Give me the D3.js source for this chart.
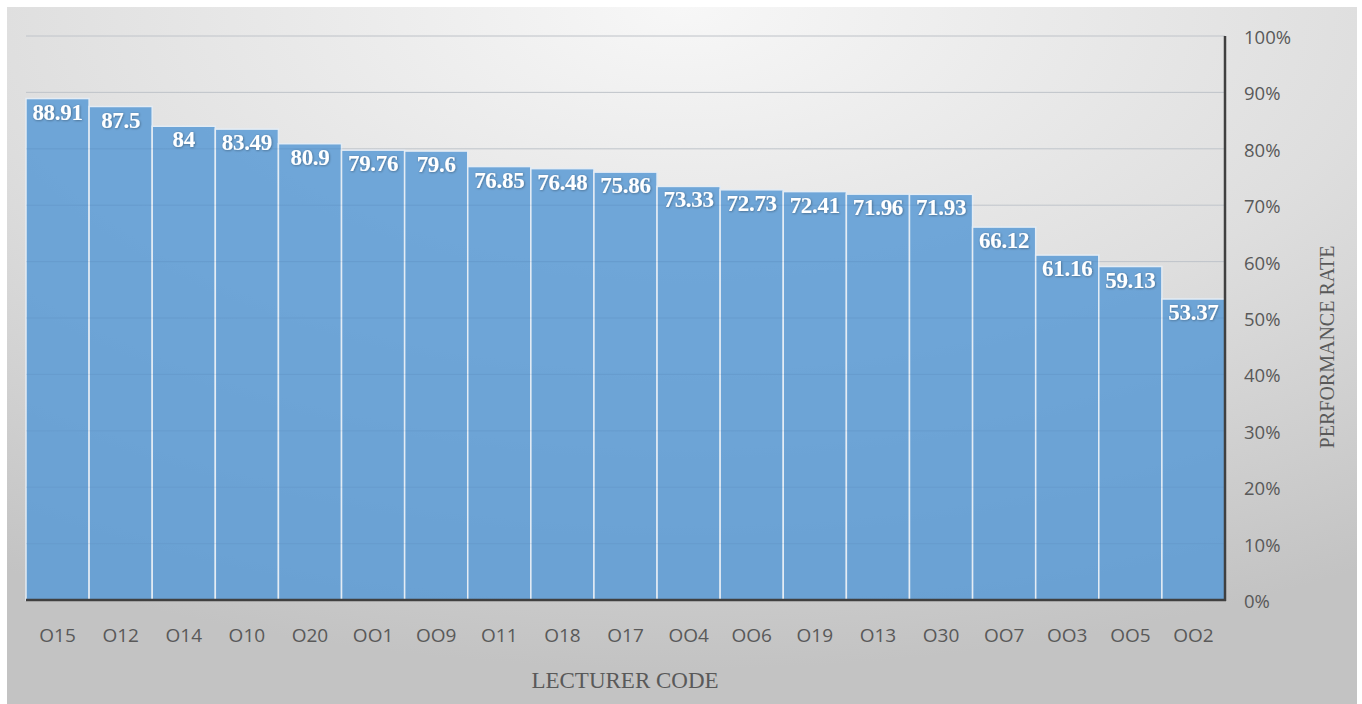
<!DOCTYPE html>
<html>
<head>
<meta charset="utf-8">
<script src="https://cdn.jsdelivr.net/npm/d3@7"></script>
<style>
  html, body { margin: 0; padding: 0; background: #fff; }
  svg { display: block; }
</style>
</head>
<body>
<svg></svg>
<script>
// chart data
var codes = ['O15', 'O12', 'O14', 'O10', 'O20', 'OO1', 'OO9', 'O11', 'O18', 'O17',
  'OO4', 'OO6', 'O19', 'O13', 'O30', 'OO7', 'OO3', 'OO5', 'OO2']
var rates = [88.91, 87.5, 84, 83.49, 80.9, 79.76, 79.6, 76.85, 76.48, 75.86,
  73.33, 72.73, 72.41, 71.96, 71.93, 66.12, 61.16, 59.13, 53.37]
var ticks = [0, 10, 20, 30, 40, 50, 60, 70, 80, 90, 100]

var w = 1362
var h = 704

var svg = d3.select('svg')
    .attr('width', w)
    .attr('height', h)

// background gradient
var defs = svg.append('defs')
var grad = defs.append('radialGradient')
    .attr('id', 'bg')
    .attr('cx', '50%').attr('cy', '0%')
    .attr('r', '95%')
    .attr('gradientUnits', 'objectBoundingBox')
grad.append('stop').attr('offset', '0%').attr('stop-color', '#f7f7f7')
grad.append('stop').attr('offset', '55%').attr('stop-color', '#dedede')
grad.append('stop').attr('offset', '100%').attr('stop-color', '#c3c3c3')

var shadow = defs.append('filter').attr('id', 'shadow')
    .attr('x', '-20%').attr('y', '-20%').attr('width', '140%').attr('height', '140%')
shadow.append('feDropShadow')
    .attr('dx', 0.6).attr('dy', 0.6).attr('stdDeviation', 0.8)
    .attr('flood-color', '#000').attr('flood-opacity', 0.4)

svg.append('rect')
    .attr('x', 7).attr('y', 7)
    .attr('width', 1350).attr('height', 697)
    .attr('fill', 'url(#bg)')

var plotLeft = 26
var plotRight = 1225
var plotTop = 36
var plotBottom = 600

var x = d3.scaleBand()
    .domain(codes)
    .range([plotLeft, plotRight])
    .padding(0)

var y = d3.scaleLinear()
    .domain([0, 100])
    .range([plotBottom, plotTop])

var g = svg.append('g')

// gridlines
g.selectAll('line.grid')
  .data(ticks.slice(1))
  .enter().append('line')
  .attr('class', 'grid')
  .attr('x1', plotLeft).attr('x2', plotRight)
  .attr('y1', function (d) { return y(d) })
  .attr('y2', function (d) { return y(d) })
  .attr('stroke', '#d2d2d2')
  .attr('stroke-width', 1)

// bars
g.selectAll('rect.bar')
  .data(rates)
  .enter().append('rect')
  .attr('class', 'bar')
  .attr('x', function (d, i) { return x(codes[i]) })
  .attr('y', function (d) { return y(d) })
  .attr('width', x.bandwidth())
  .attr('height', function (d) { return plotBottom - y(d) })
  .attr('fill', '#5b9bd5')
  .attr('fill-opacity', 0.86)
  .attr('stroke', '#e4ecf4')
  .attr('stroke-width', 1.5)

// faint gridlines seen through the bars
g.selectAll('line.gridover')
  .data(ticks.slice(1))
  .enter().append('line')
  .attr('class', 'gridover')
  .attr('x1', plotLeft).attr('x2', plotRight)
  .attr('y1', function (d) { return y(d) })
  .attr('y2', function (d) { return y(d) })
  .attr('stroke', '#3f6f9c')
  .attr('stroke-opacity', 0.12)
  .attr('stroke-width', 1)

// value labels
g.selectAll('text.val')
  .data(rates)
  .enter().append('text')
  .attr('class', 'val')
  .attr('x', function (d, i) { return x(codes[i]) + x.bandwidth() / 2 })
  .attr('y', function (d) { return y(d) + 21 })
  .attr('text-anchor', 'middle')
  .attr('fill', '#fff')
  .attr('filter', 'url(#shadow)')
  .style('font-family', '"Liberation Serif", "DejaVu Serif", serif')
  .style('font-weight', 'bold')
  .style('font-size', '23px')
  .style('letter-spacing', '-0.3px')
  .text(function (d) { return d })

// axes lines
g.append('line')
  .attr('x1', plotLeft).attr('x2', plotRight + 1)
  .attr('y1', plotBottom).attr('y2', plotBottom)
  .attr('stroke', '#404040').attr('stroke-width', 2.5)
g.append('line')
  .attr('x1', plotRight).attr('x2', plotRight)
  .attr('y1', plotTop).attr('y2', plotBottom + 1)
  .attr('stroke', '#404040').attr('stroke-width', 2.5)

// y tick labels
g.selectAll('text.ytick')
  .data(ticks)
  .enter().append('text')
  .attr('class', 'ytick')
  .attr('x', 1244)
  .attr('y', function (d) { return y(d) + 8 })
  .attr('fill', '#595959')
  .style('font-family', '"Open Sans", "Liberation Sans", sans-serif')
  .style('font-size', '18.5px')
  .text(function (d) { return d + '%' })

// x tick labels
g.selectAll('text.xtick')
  .data(codes)
  .enter().append('text')
  .attr('class', 'xtick')
  .attr('x', function (d) { return x(d) + x.bandwidth() / 2 })
  .attr('y', 642)
  .attr('text-anchor', 'middle')
  .attr('fill', '#595959')
  .style('font-family', '"Open Sans", "Liberation Sans", sans-serif')
  .style('font-size', '19px')
  .text(function (d) { return d })

// axis titles
svg.append('text')
  .attr('x', 625)
  .attr('y', 688)
  .attr('text-anchor', 'middle')
  .attr('fill', '#595959')
  .style('font-family', '"Liberation Serif", "DejaVu Serif", serif')
  .style('font-size', '23px')
  .text('LECTURER CODE')

svg.append('text')
  .attr('transform', 'translate(1334,' + 347 + ') rotate(-90)')
  .attr('text-anchor', 'middle')
  .attr('fill', '#595959')
  .style('font-family', '"Liberation Serif", "DejaVu Serif", serif')
  .style('font-size', '20px')
  .text('PERFORMANCE RATE')
</script>
</body>
</html>
